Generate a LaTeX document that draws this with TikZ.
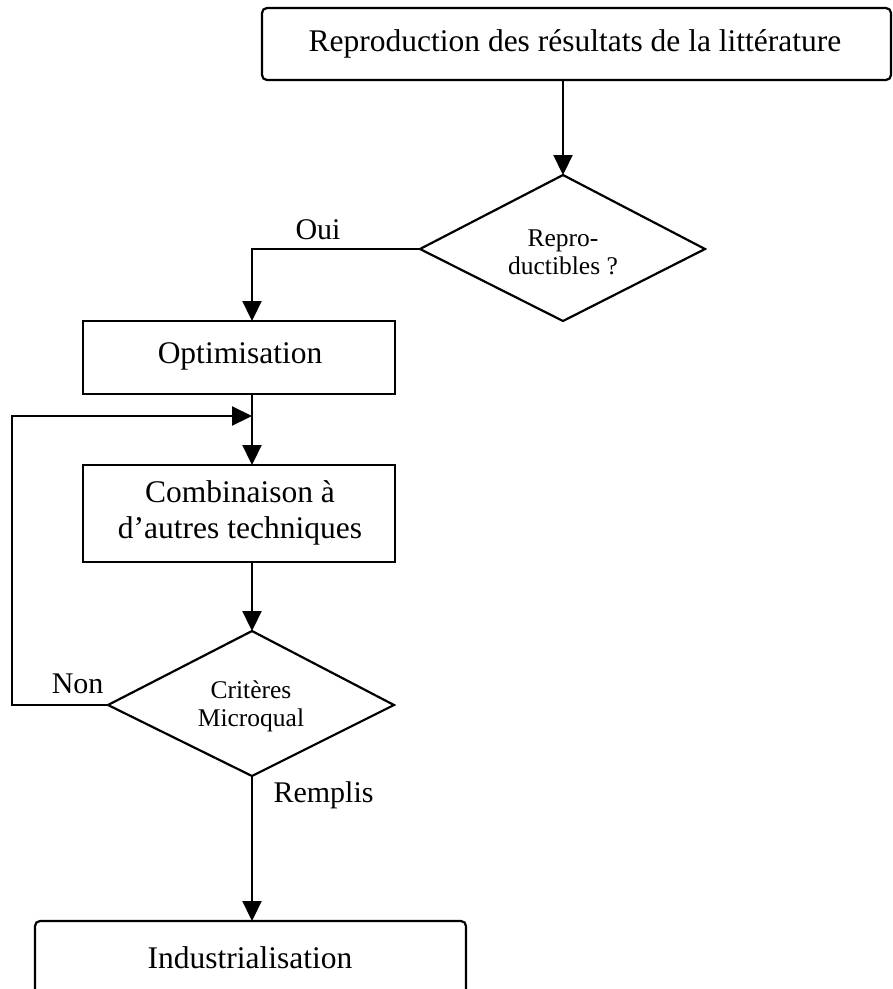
\documentclass[tikz,border=0pt]{standalone}
\usepackage{fontspec}
\setmainfont{Liberation Serif}
\usetikzlibrary{arrows.meta}
\begin{document}
\begin{tikzpicture}[x=1pt,y=-1pt,
  conn/.style={line width=2.2pt},
  arr/.style={conn,-{Triangle[length=20pt,width=19pt]}},
  boxtxt/.style={font=\fontsize{31.5}{36}\selectfont},
  smalltxt/.style={font=\fontsize{25.5}{28}\selectfont, align=center},
  lbl/.style={font=\fontsize{30}{34}\selectfont}]
\useasboundingbox (0,0) rectangle (893,989);
% top box
\draw[conn, rounded corners=5pt] (262,8) rectangle (891,80);
\node[boxtxt] (top) at (575,44) {Reproduction des résultats de la littérature};
\coordinate (topb) at (563,80);
% diamond 1
\coordinate (d1t) at (563,175);
\coordinate (d1l) at (420,249);
\coordinate (d1r) at (705,249);
\coordinate (d1b) at (563,321);
\draw[conn] (d1t) -- (d1r) -- (d1b) -- (d1l) -- cycle;
\node[smalltxt] (d1) at (563,252) {Repro-\\ductibles ?};
\draw[arr] (topb) -- (d1t);
% optimisation
\draw[conn] (83,321) rectangle (395,394);
\node[boxtxt] (opt) at (240,356) {Optimisation};
\coordinate (optt) at (252,321);
\coordinate (optb) at (252,394);
\draw[arr] (d1l) -- (252,249) -- (optt);
\node[lbl, anchor=base] (oui) at (318,239) {Oui};
% combinaison
\draw[conn] (83,465) rectangle (395,562);
\node[boxtxt, align=center] (comb) at (240,513) {Combinaison à\\d’autres techniques};
\coordinate (combt) at (252,465);
\coordinate (combb) at (252,562);
\draw[arr] (optb) -- (combt);
% diamond 2
\coordinate (d2t) at (252,631);
\coordinate (d2l) at (108,705);
\coordinate (d2r) at (394,705);
\coordinate (d2b) at (252,776);
\draw[conn] (d2t) -- (d2r) -- (d2b) -- (d2l) -- cycle;
\node[smalltxt] (d2) at (251,706) {Critères\\Microqual};
\draw[arr] (combb) -- (d2t);
% loop
\coordinate (loopend) at (252,416);
\draw[arr] (d2l) -- (12,705) -- (12,416) -- (loopend);
\node[lbl, anchor=base east] (non) at (107,693) {Non};
% industrialisation
\draw[conn, rounded corners=5pt] (35,921) rectangle (466,995);
\node[boxtxt] (ind) at (250,958) {Industrialisation};
\coordinate (indt) at (252,921);
\draw[arr] (d2b) -- (indt);
\node[lbl, anchor=west] (rem) at (270,795) {Remplis};
\end{tikzpicture}
\end{document}
